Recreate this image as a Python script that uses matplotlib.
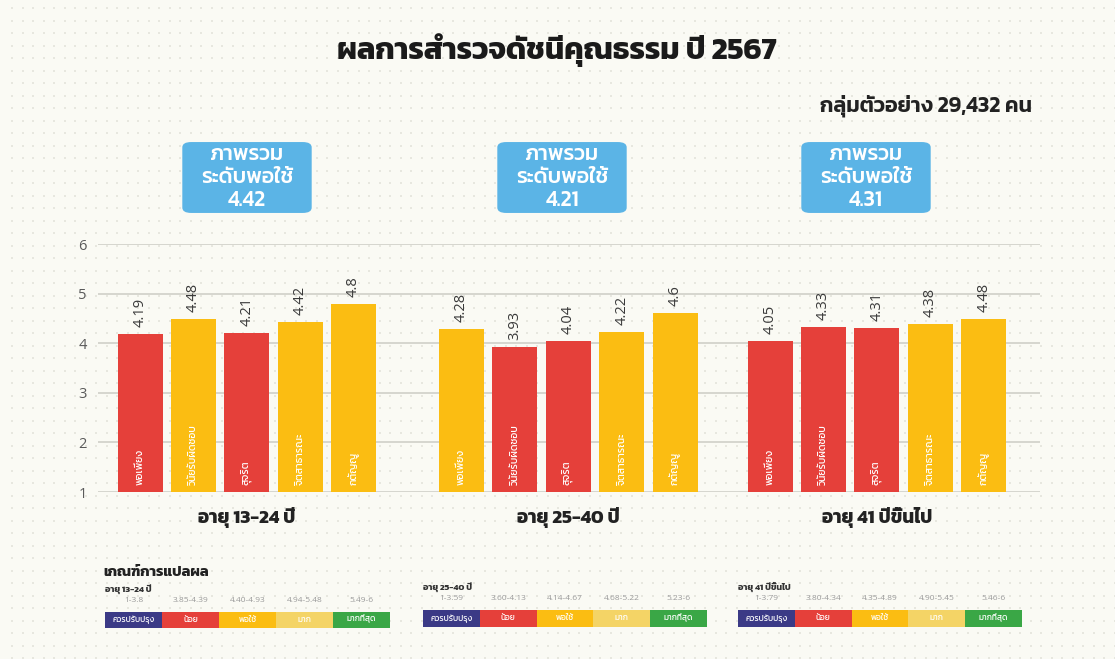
import numpy as np
import matplotlib
matplotlib.use("Agg")
import matplotlib.pyplot as plt
from matplotlib import font_manager as fm
from matplotlib.ft2font import FT2Font
from matplotlib.patches import FancyBboxPatch, Rectangle
import matplotlib.transforms as mtrans
import matplotlib.patheffects as pe

# ---------------- data ----------------
title = "ผลการสำรวจดัชนีคุณธรรม ปี 2567"
sample_text = "กลุ่มตัวอย่าง 29,432 คน"
groups = ["อายุ 13-24 ปี", "อายุ 25-40 ปี", "อายุ 41 ปีขึ้นไป"]
categories = ["พอเพียง", "วินัยรับผิดชอบ", "สุจริต", "จิตสาธารณะ", "กตัญญู"]
values_13_24 = [4.19, 4.48, 4.21, 4.42, 4.8]
values_25_40 = [4.28, 3.93, 4.04, 4.22, 4.6]
values_41_up = [4.05, 4.33, 4.31, 4.38, 4.48]
overall_scores = [4.42, 4.21, 4.31]
overall_levels = ["ระดับพอใช้", "ระดับพอใช้", "ระดับพอใช้"]
level_names = ["ควรปรับปรุง", "น้อย", "พอใช้", "มาก", "มากที่สุด"]
level_colors = ["#3b3a86", "#e5403a", "#fbbd12", "#f4d466", "#3aa746"]
ranges_13_24 = ["1-3.8", "3.85-4.39", "4.40-4.93", "4.94-5.48", "5.49-6"]
ranges_25_40 = ["1-3.59", "3.60-4.13", "4.14-4.67", "4.68-5.22", "5.23-6"]
ranges_41_up = ["1-3.79", "3.80-4.34", "4.35-4.89", "4.90-5.45", "5.46-6"]
lower_bounds_13_24 = [1, 3.85, 4.40, 4.94, 5.49]
lower_bounds_25_40 = [1, 3.60, 4.14, 4.68, 5.23]
lower_bounds_41_up = [1, 3.80, 4.35, 4.90, 5.46]

values = [values_13_24, values_25_40, values_41_up]
ranges = [ranges_13_24, ranges_25_40, ranges_41_up]
bounds = [lower_bounds_13_24, lower_bounds_25_40, lower_bounds_41_up]

# ---------------- font ----------------
def find_thai_family():
    found = {}
    for f in fm.findSystemFonts():
        try:
            ft = FT2Font(f)
            cmap = ft.get_charmap()
            if 0x0E01 in cmap and 0x0E33 in cmap and 0x0E38 in cmap:
                try:
                    fm.fontManager.addfont(f)
                except Exception:
                    pass
                found.setdefault(ft.family_name, []).append(ft.style_name)
        except Exception:
            pass
    if not found:
        return None, False
    prefs = ["Kanit", "Prompt", "Noto Sans Thai", "Noto Sans Thai UI", "Sarabun",
             "Loma", "Garuda", "Waree", "Umpush", "Laksaman", "Norasi", "Tlwg Typo",
             "Kinnari", "Sawasdee", "Purisa", "Noto Serif Thai", "Noto Looped Thai"]
    fam = None
    for p in prefs:
        if p in found:
            fam = p
            break
    if fam is None:
        fam = list(found.keys())[0]
    return fam, any("Bold" in s for s in found[fam])

thai, thai_bold = find_thai_family()
fams = ([thai] if thai else []) + ["DejaVu Sans"]
plt.rcParams["font.family"] = fams
num_fams = ["Open Sans", "DejaVu Sans"]

def bold(color, w=1.1, weight="bold"):
    if thai_bold:
        return dict(fontweight=weight)
    return dict(path_effects=[pe.withStroke(linewidth=w, foreground=color)])

# ---------------- figure ----------------
W, H = 1115, 659
bg = "#fafaf4"
fig = plt.figure(figsize=(W / 100, H / 100), dpi=100, facecolor=bg)

# dotted background pattern
bgax = fig.add_axes([0, 0, 1, 1], zorder=-10)
bgax.set_xlim(0, W)
bgax.set_ylim(H, 0)
bgax.axis("off")
gx, gy = np.meshgrid(np.arange(12, W, 10.5), np.arange(8, H, 12.5))
bgax.scatter(gx.ravel(), gy.ravel(), s=1.2, c="#e7e7df", marker="s", linewidths=0)

def fx(px):
    return px / W

def fy(py):
    return 1 - py / H

# main axes
ax = fig.add_axes([fx(98), fy(492), fx(1040) - fx(98), fy(244) - fy(492)])
ax.set_facecolor("none")
slot_px = 53.4
group_offsets = [0, 6.02, 11.8]
ax.set_xlim((98 - 140) / slot_px, (1040 - 140) / slot_px)
ax.set_ylim(1, 6)
for s in ax.spines.values():
    s.set_visible(False)
ax.set_yticks([1, 2, 3, 4, 5, 6])
ax.tick_params(axis="y", length=0, labelsize=10.5, labelcolor="#5a5a5a", pad=8)
for lbl in ax.get_yticklabels():
    lbl.set_family(num_fams)
ax.set_xticks([])
ax.grid(axis="y", color="#d3d3cc", linewidth=1.3)
ax.set_axisbelow(True)

def level_index(v, lb):
    idx = 0
    for i, b in enumerate(lb):
        if v >= b:
            idx = i
    return idx

bar_w = 45 / slot_px
blend = mtrans.blended_transform_factory(ax.transData, fig.transFigure)
for g, (vals, lb) in enumerate(zip(values, bounds)):
    xs = np.arange(len(vals)) + group_offsets[g]
    cols = [level_colors[level_index(v, lb)] for v in vals]
    ax.bar(xs, np.array(vals) - 1, bottom=1, width=bar_w, color=cols, zorder=3)
    for x, v, c in zip(xs, vals, categories):
        ax.annotate(f"{v:g}", (x, v), xytext=(0, 5), textcoords="offset points",
                    rotation=90, ha="center", va="bottom", fontsize=10.5,
                    color="#3a3a3a", zorder=4, family=num_fams)
        ax.annotate(c, (x, 1), xytext=(0, 5), textcoords="offset points",
                    rotation=90, ha="center", va="bottom", fontsize=7.5,
                    color="white", zorder=4)
    fig.text(xs.mean(), fy(517), groups[g], transform=blend, ha="center",
             va="center", fontsize=13.5, color="#222222", **bold("#222222", 1.1))

# title and sample
fig.text(fx(557), fy(50), title, ha="center", va="center", fontsize=22,
         color="#1a1a1a", **bold("#1a1a1a", 1.8))
fig.text(fx(1032), fy(106), sample_text, ha="right", va="center", fontsize=15.5,
         color="#222222", **bold("#222222", 1.0, "semibold"))

# overall boxes
box_centers = [247, 562, 866]
for cx, sc, lv in zip(box_centers, overall_scores, overall_levels):
    bw, bh = 128, 75
    patch = FancyBboxPatch((fx(cx - bw / 2 + 6), fy(215 - 6)), fx(bw - 12), fy(0) - fy(bh - 12),
                           boxstyle="round,pad=0.006,rounding_size=0.008",
                           transform=fig.transFigure, facecolor="#5bb4e6",
                           edgecolor="none", zorder=2)
    fig.add_artist(patch)
    for yy, t in zip([155, 178, 200], ["ภาพรวม", lv, f"{sc:.2f}"]):
        fig.text(fx(cx), fy(yy), t, ha="center", va="center", fontsize=15.5,
                 color="white", **bold("white", 0.8, "medium"))

# interpretation criteria
fig.text(fx(103), fy(573), "เกณฑ์การแปลผล", ha="left", va="center", fontsize=10.5,
         color="#222222", **bold("#222222", 0.8))
tables = [(105, 390, 612, 628), (423, 707, 610, 627), (738, 1022, 610, 627)]
for g, (x0, x1, y0, y1) in enumerate(tables):
    fig.text(fx(x0), fy(y0 - 23), groups[g], ha="left", va="center", fontsize=6.5,
             color="#333333", **bold("#333333", 0.4))
    seg = (x1 - x0) / 5
    for k in range(5):
        sx = x0 + k * seg
        fig.add_artist(Rectangle((fx(sx), fy(y1)), fx(seg), fy(y0) - fy(y1),
                                 transform=fig.transFigure, facecolor=level_colors[k],
                                 edgecolor="none"))
        fig.text(fx(sx + seg / 2), fy((y0 + y1) / 2), level_names[k], ha="center",
                 va="center", fontsize=6, color="white")
        fig.text(fx(sx + seg / 2), fy(y0 - 11), ranges[g][k], ha="center",
                 va="center", fontsize=6, color="#9a9a9a", family=num_fams)

fig.savefig("out.png", dpi=100, facecolor=bg)
